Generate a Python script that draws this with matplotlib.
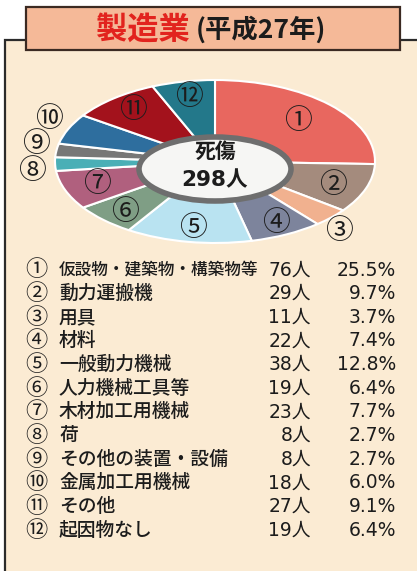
import matplotlib
matplotlib.use("Agg")
import matplotlib.pyplot as plt
from matplotlib.patches import Rectangle, Ellipse
import numpy as np

# ---- data ----
title_main = "製造業"
title_sub = "(平成27年)"
center_label = "死傷"
total_label = "298人"
nums = ["①", "②", "③", "④", "⑤", "⑥", "⑦", "⑧", "⑨", "⑩", "⑪", "⑫"]
categories = ["仮設物・建築物・構築物等", "動力運搬機", "用具", "材料", "一般動力機械",
              "人力機械工具等", "木材加工用機械", "荷", "その他の装置・設備",
              "金属加工用機械", "その他", "起因物なし"]
counts = [76, 29, 11, 22, 38, 19, 23, 8, 8, 18, 27, 19]
percents = [25.5, 9.7, 3.7, 7.4, 12.8, 6.4, 7.7, 2.7, 2.7, 6.0, 9.1, 6.4]

# ---- style ----
colors = ["#E8675F", "#A48B7D", "#F1B18F", "#7D849C", "#B9E3F1", "#7F9E85",
          "#B0607E", "#4AAFB6", "#777777", "#2E6E9E", "#A3121C", "#23788A"]
label_dist = [0.72, 0.79, 1.15, 0.85, 0.83, 0.84, 0.79, 1.15, 1.14, 1.16, 0.81, 0.81]
label_nudge = [0, -2, -4, 0, 0, 2, 0, 4, -3, -3, 0, 0]   # degrees
CJK = "Noto Sans CJK JP"
MIX = ["DejaVu Sans", "Noto Sans CJK JP"]
txt_color = "#1c1c1c"

W, H = 417, 571
fig = plt.figure(figsize=(W / 100, H / 100), dpi=100)
fig.patch.set_facecolor("white")

ax = fig.add_axes([0, 0, 1, 1])
ax.set_xlim(0, W)
ax.set_ylim(H, 0)
ax.axis("off")

# outer panel
ax.add_patch(Rectangle((5, 40), 430, 560, facecolor="#FBEBD3", edgecolor="#2b2b2b", lw=1.6, zorder=1))
# title box
ax.add_patch(Rectangle((26, 7), 374, 43, facecolor="#F5B998", edgecolor="#3b2a22", lw=1.6, zorder=2))
ax.text(96, 30, title_main, color="#E2231E", fontsize=22.5, family=CJK, fontweight="bold",
        ha="left", va="center", zorder=3)
ax.text(196, 30, title_sub, color=txt_color, fontsize=19, family=CJK, fontweight="bold",
        ha="left", va="center", zorder=3)

# pie (stretched into an ellipse)
pax = fig.add_axes([55 / W, 1 - 243 / H, 320 / W, 163 / H])
wedges, _ = pax.pie(counts, colors=colors, startangle=90, counterclock=False,
                    wedgeprops=dict(edgecolor="white", linewidth=1.5))
pax.set_aspect("auto")
pax.set_xlim(-1, 1)
pax.set_ylim(-1, 1)
for w, lab, r, nd in zip(wedges, nums, label_dist, label_nudge):
    ang = np.deg2rad((w.theta1 + w.theta2) / 2 + nd)
    pax.text(r * np.cos(ang), r * np.sin(ang), lab, ha="center", va="center",
             fontsize=20, family=CJK, color=txt_color)

# overlay for centre hole and text
oax = fig.add_axes([0, 0, 1, 1])
oax.set_xlim(0, W)
oax.set_ylim(H, 0)
oax.axis("off")
oax.patch.set_alpha(0)
oax.add_patch(Ellipse((215, 169), 152, 64, facecolor="#F6F6F4", edgecolor="#6E6E6E", lw=4))
oax.text(215, 151, center_label, ha="center", va="center", fontsize=15, family=CJK,
         fontweight="bold", color=txt_color)
oax.text(215, 180, total_label, ha="center", va="center", fontsize=15.5, family=MIX,
         fontweight="bold", color=txt_color)

# legend table
y0, dy = 270, 23.65
for i, (n, c, k, p) in enumerate(zip(nums, categories, counts, percents)):
    y = y0 + i * dy
    fs = 12 if len(c) > 10 else 13.5
    ax.text(36, y, n, ha="center", va="center", fontsize=16, family=CJK, color=txt_color, zorder=3)
    ax.text(59, y, c, ha="left", va="center", fontsize=fs, family=CJK, color=txt_color,
            fontweight="medium", zorder=3)
    ax.text(311, y, f"{k}人", ha="right", va="center", fontsize=13.5, family=MIX, color=txt_color, zorder=3)
    ax.text(396, y, f"{p:.1f}%", ha="right", va="center", fontsize=13.5, family=MIX, color=txt_color, zorder=3)

fig.savefig("out.png", dpi=100, facecolor="white")
